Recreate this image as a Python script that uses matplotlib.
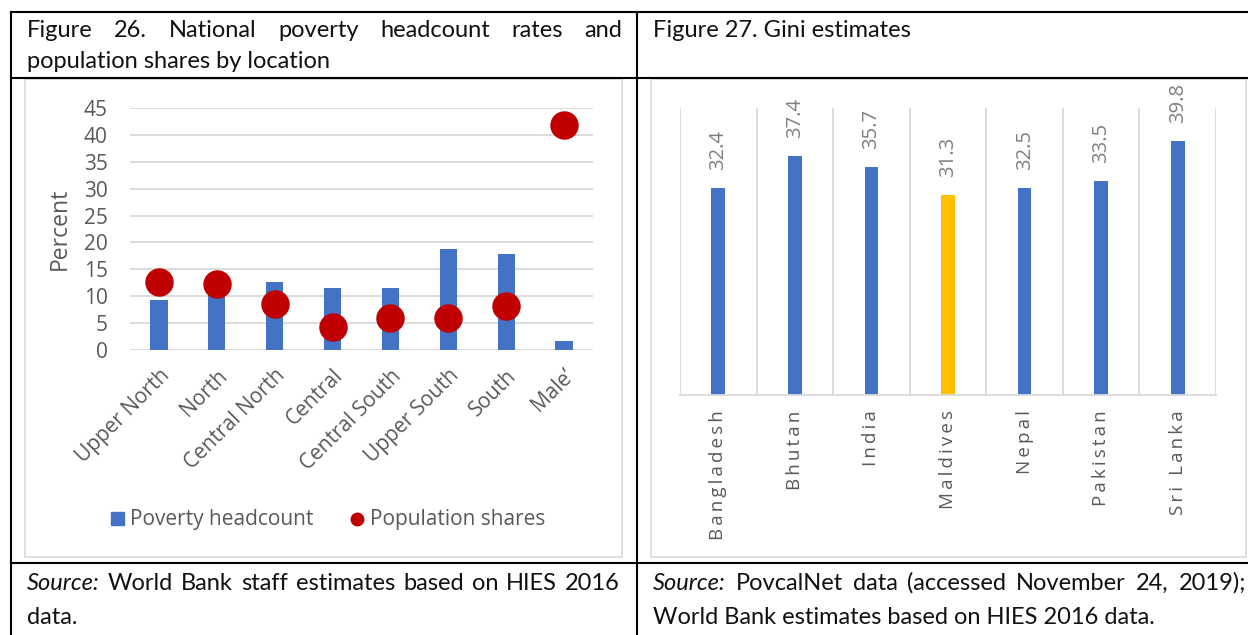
import numpy as np
import matplotlib
matplotlib.use("Agg")
import matplotlib.pyplot as plt
from matplotlib.lines import Line2D
from matplotlib.patches import Rectangle, Patch

# --- data ---------------------------------------------------------------
locations = ["Upper North", "North", "Central North", "Central",
             "Central South", "Upper South", "South", "Male\u2019"]
poverty_headcount = [9.3, 11.2, 12.7, 11.5, 11.5, 18.8, 17.9, 1.7]
population_shares = [12.6, 12.2, 8.6, 4.2, 6.0, 6.0, 8.2, 41.9]

countries = ["Bangladesh", "Bhutan", "India", "Maldives",
             "Nepal", "Pakistan", "Sri Lanka"]
gini = [32.4, 37.4, 35.7, 31.3, 32.5, 33.5, 39.8]
highlight = "Maldives"

# --- style --------------------------------------------------------------
BLUE = "#4472C4"
RED = "#C00000"
YELLOW = "#FFC000"
GRID = "#D9D9D9"
GREY = "#595959"
LABEL_GREY = "#7F7F7F"
CHART_FONT = ["Open Sans", "DejaVu Sans"]
TABLE_FONT = "Lato"

W, H = 1248, 635
fig = plt.figure(figsize=(W / 100, H / 100), dpi=100)
plt.rcParams["font.family"] = CHART_FONT


def fx(p):
    return p / W


def fy(p):
    return 1 - p / H


def axes_px(left, top, right, bottom):
    return fig.add_axes([fx(left), fy(bottom), (right - left) / W, (bottom - top) / H])


def fig_line(xs, ys, **kw):
    fig.add_artist(Line2D([fx(v) for v in xs], [fy(v) for v in ys],
                          transform=fig.transFigure, **kw))


def justified(pieces, x0, x1, y, size):
    # place words so that the line runs exactly from x0 to x1 (like Word's justify)
    texts = [fig.text(fx(x0), fy(y), s, fontsize=size, style=st, family=TABLE_FONT,
                      va="baseline", ha="left", color="#111111")
             for s, st in pieces]
    r = fig.canvas.get_renderer()
    widths = [t.get_window_extent(r).width for t in texts]
    gap = (x1 - x0 - sum(widths)) / (len(texts) - 1)
    pos = x0
    for t, w in zip(texts, widths):
        t.set_x(fx(pos))
        pos += w + gap


def plain(s, x0, y, size):
    fig.text(fx(x0), fy(y), s, fontsize=size, family=TABLE_FONT,
             va="baseline", ha="left", color="#111111")


# --- table grid ---------------------------------------------------------
lw = 1.5
for yy in (12, 78, 563):
    fig_line([11, 1248], [yy, yy], color="black", lw=lw)
for xx in (11, 637):
    fig_line([xx, xx], [12, 635], color="black", lw=lw)

# chart area frames
for l, r in ((25, 622), (651, 1246)):
    fig.add_artist(Rectangle((fx(l), fy(557)), (r - l) / W, (557 - 79) / H,
                             transform=fig.transFigure, fill=False,
                             ec=GRID, lw=1.2))

# --- table text ---------------------------------------------------------
TS = 17
justified([(w, "normal") for w in "Figure 26. National poverty headcount rates and".split()],
          27, 622, 37, TS)
plain("population shares by location", 27, 68, TS)
plain("Figure 27. Gini estimates", 653, 37, TS)

justified([("Source:", "italic")] + [(w, "normal") for w in
          "World Bank staff estimates based on HIES 2016".split()], 27, 620, 590, TS)
plain("data.", 27, 624, TS)
justified([("Source:", "italic")] + [(w, "normal") for w in
          "PovcalNet data (accessed November 24, 2019);".split()], 653, 1246, 590, TS)
plain("World Bank estimates based on HIES 2016 data.", 653, 624, TS)

# --- Figure 26 ----------------------------------------------------------
ax1 = axes_px(130, 108, 593, 350)
x = np.arange(len(locations))
ax1.bar(x, poverty_headcount, width=0.3, color=BLUE, zorder=2)
ax1.scatter(x, population_shares, s=420, color=RED, linewidths=0, zorder=3)
ax1.set_xlim(-0.5, len(locations) - 0.5)
ax1.set_ylim(0, 45)
ax1.set_yticks(range(0, 46, 5))
ax1.yaxis.grid(True, color=GRID, lw=1.3)
ax1.set_axisbelow(True)
for s in ax1.spines.values():
    s.set_visible(False)
ax1.tick_params(axis="y", length=0, labelsize=15, labelcolor=GREY, pad=16)
ax1.set_xticks(x, locations)
ax1.tick_params(axis="x", length=0, labelsize=15, labelcolor=GREY, pad=11)
for lab in ax1.get_xticklabels():
    lab.set_rotation(45)
    lab.set_ha("right")
    lab.set_va("top")
    lab.set_rotation_mode("anchor")
fig.text(fx(60), fy(229), "Percent", rotation=90, ha="center", va="center",
         fontsize=16.5, color=GREY)

handles = [Patch(color=BLUE),
           Line2D([], [], marker="o", ls="", color=RED, markersize=9)]
fig.legend(handles, ["Poverty headcount", "Population shares"], loc="center",
           bbox_to_anchor=(fx(328), fy(520)), ncol=2, frameon=False,
           fontsize=15, labelcolor=GREY, handlelength=0.6, handleheight=0.6,
           handletextpad=0.3, columnspacing=1.8)

# --- Figure 27 ----------------------------------------------------------
ax2 = axes_px(680, 108, 1216, 395)
x2 = np.arange(len(countries))
colors = [YELLOW if c == highlight else BLUE for c in countries]
ax2.bar(x2, gini, width=0.18, color=colors, zorder=2)
ax2.set_xlim(-0.5, len(countries) - 0.5)
ax2.set_ylim(0, 45)
ax2.set_yticks([])
ax2.set_xticks(np.arange(-0.5, len(countries), 1), minor=True)
ax2.xaxis.grid(True, which="minor", color=GRID, lw=1.3)
ax2.set_axisbelow(True)
for k, s in ax2.spines.items():
    s.set_visible(k == "bottom")
ax2.spines["bottom"].set_color(GRID)
ax2.spines["bottom"].set_linewidth(1.3)
ax2.set_xticks(x2, ["\u2009".join(c) for c in countries])
ax2.tick_params(axis="x", which="both", length=0, labelsize=13.5,
                labelcolor=GREY, pad=11)
for lab in ax2.get_xticklabels():
    lab.set_rotation(90)
    lab.set_va("top")
for xi, v in zip(x2, gini):
    ax2.annotate(f"{v:.1f}", (xi, v), xytext=(0, 13), textcoords="offset points",
                 rotation=90, ha="center", va="bottom", fontsize=14.5,
                 color=LABEL_GREY)

fig.savefig("out.png", dpi=100)
